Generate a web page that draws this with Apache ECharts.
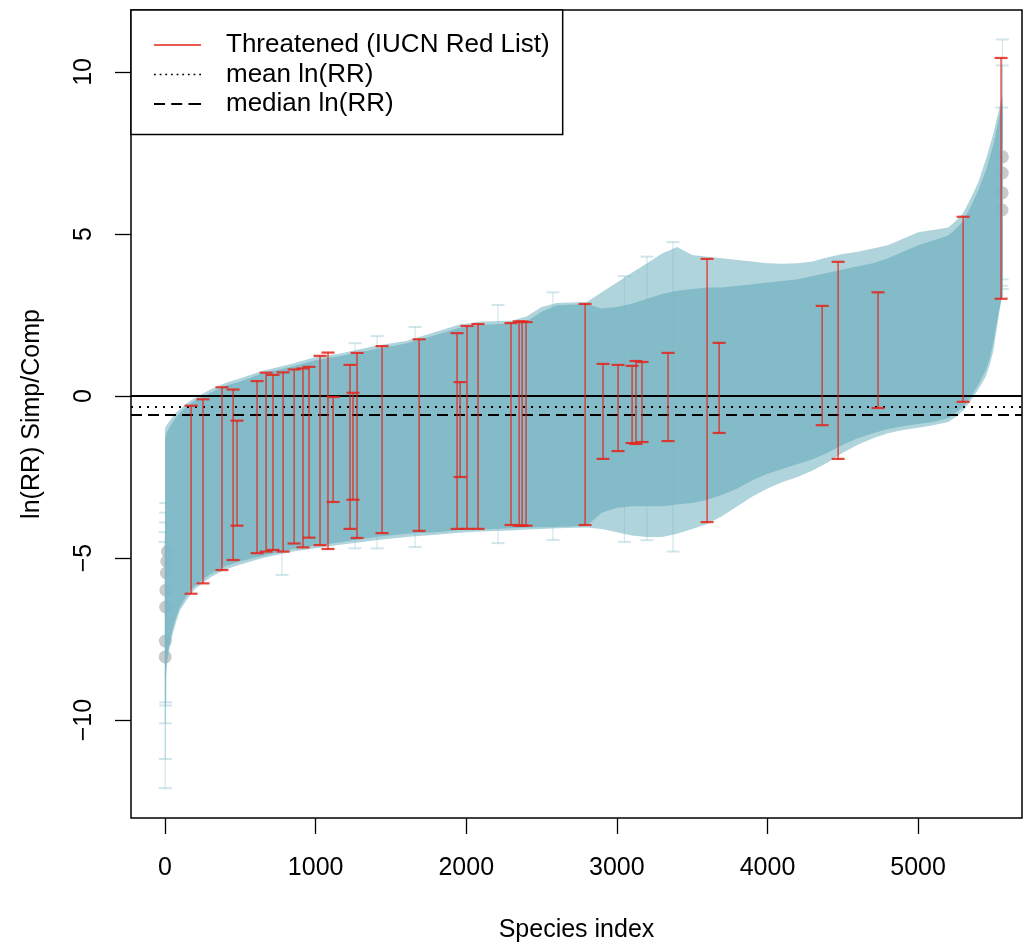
<!DOCTYPE html>
<html><head><meta charset="utf-8">
<script src="https://cdn.jsdelivr.net/npm/echarts@6/dist/echarts.min.js"></script>
<style>html,body{margin:0;padding:0;background:#fff}#chart{width:1025px;height:945px}</style>
</head><body><div id="chart"></div>
<script>
// ---- data ----
// envelope of the species error bars (sorted ln(RR) with CI)
const bandIdx = [0, 10, 25, 50, 75, 100, 150, 200, 300, 400, 500, 650, 850, 1000, 1150, 1400, 1600, 1800, 1950, 2100, 2300, 2400, 2500, 2600, 2800, 2900, 3000, 3100, 3200, 3300, 3400, 3500, 3600, 3700, 3800, 3900, 4000, 4100, 4200, 4300, 4400, 4500, 4600, 4700, 4800, 4900, 5000, 5100, 5200, 5250, 5300, 5350, 5400, 5450, 5475, 5500, 5520, 5540, 5555, 5562];
const outerHi = [-1.0, -0.9, -0.8, -0.65, -0.5, -0.4, -0.2, -0.05, 0.2, 0.4, 0.55, 0.78, 1.0, 1.2, 1.3, 1.55, 1.7, 1.98, 2.2, 2.3, 2.32, 2.45, 2.75, 2.87, 2.9, 3.2, 3.5, 3.8, 4.1, 4.4, 4.6, 4.35, 4.3, 4.25, 4.2, 4.15, 4.1, 4.08, 4.1, 4.15, 4.28, 4.38, 4.45, 4.55, 4.65, 4.85, 5.05, 5.12, 5.2, 5.4, 5.65, 6.1, 6.6, 7.3, 7.7, 8.1, 8.5, 8.9, 9.2, 9.2];
const outerLo = [-9.0, -8.4, -7.9, -7.35, -6.95, -6.6, -6.25, -5.95, -5.6, -5.35, -5.2, -5.0, -4.8, -4.7, -4.6, -4.45, -4.35, -4.28, -4.22, -4.18, -4.15, -4.12, -4.1, -4.08, -4.06, -4.1, -4.2, -4.3, -4.35, -4.35, -4.25, -4.1, -3.95, -3.7, -3.4, -3.1, -2.85, -2.65, -2.5, -2.3, -2.05, -1.75, -1.5, -1.3, -1.15, -1.05, -0.98, -0.9, -0.8, -0.65, -0.45, -0.15, 0.2, 0.6, 0.95, 1.4, 2.0, 2.6, 3.0, 3.0];
const innerHi = [-1.3, -1.15, -1.0, -0.82, -0.65, -0.52, -0.3, -0.14, 0.1, 0.32, 0.45, 0.7, 0.92, 1.1, 1.22, 1.45, 1.62, 1.88, 2.1, 2.2, 2.24, 2.3, 2.6, 2.8, 2.84, 2.7, 2.75, 2.85, 3.0, 3.15, 3.25, 3.3, 3.35, 3.35, 3.4, 3.45, 3.5, 3.55, 3.6, 3.7, 3.8, 3.9, 4.0, 4.1, 4.25, 4.45, 4.65, 4.8, 4.95, 5.15, 5.4, 5.85, 6.35, 6.95, 7.35, 7.75, 8.2, 8.65, 9.0, 9.0];
const innerLo = [-8.8, -8.2, -7.75, -7.2, -6.8, -6.5, -6.1, -5.85, -5.5, -5.25, -5.1, -4.93, -4.72, -4.62, -4.52, -4.35, -4.25, -4.2, -4.14, -4.12, -4.08, -4.06, -4.05, -4.04, -4.0, -3.6, -3.45, -3.4, -3.4, -3.4, -3.35, -3.3, -3.2, -3.05, -2.85, -2.6, -2.4, -2.25, -2.1, -1.95, -1.75, -1.5, -1.3, -1.15, -1.02, -0.93, -0.86, -0.8, -0.68, -0.52, -0.33, -0.03, 0.35, 0.8, 1.15, 1.65, 2.2, 2.7, 3.05, 3.05];

// individual wide error bars sticking out of the band
const faintIdx = [1, 2, 3, 4, 5, 777, 1262, 1408, 1660, 2211, 2576, 3050, 3200, 3373, 5556, 5558, 5560];
const faintHi = [-4.5, -4.2, -3.9, -3.6, -3.3, 0.7, 1.63, 1.85, 2.13, 2.81, 3.2, 3.7, 4.3, 4.75, 8.9, 10.2, 11.0];
const faintLo = [-12.1, -11.2, -10.1, -9.55, -9.45, -5.52, -4.7, -4.7, -4.66, -4.54, -4.44, -4.5, -4.45, -4.8, 3.4, 3.6, 3.3];

// threatened species (IUCN Red List)
const redIdx = [173, 252, 378, 452, 478, 611, 671, 717, 784, 857, 916, 956, 1029, 1082, 1116, 1228, 1248, 1275, 1441, 1687, 1939, 1959, 2005, 2078, 2297, 2351, 2371, 2397, 2789, 2908, 3008, 3101, 3127, 3167, 3340, 3599, 3679, 4363, 4469, 4734, 5299, 5551];
const redHi = [-0.3, -0.1, 0.27, 0.2, -0.76, 0.46, 0.72, 0.65, 0.73, 0.82, 0.85, 0.9, 1.24, 1.34, -0.03, 0.96, 0.1, 1.33, 1.54, 1.75, 1.94, 0.43, 2.16, 2.22, 2.25, 2.3, 2.3, 2.28, 2.84, 0.99, 0.96, 0.93, 1.08, 1.05, 1.33, 4.23, 1.64, 2.78, 4.14, 3.2, 5.53, 10.43];
const redLo = [-6.1, -5.78, -5.37, -5.06, -4.0, -4.85, -4.8, -4.75, -4.8, -4.55, -4.67, -4.37, -4.6, -4.72, -3.27, -4.1, -3.2, -4.38, -4.23, -4.16, -4.1, -2.5, -4.1, -4.1, -3.98, -4.0, -4.0, -4.0, -3.98, -1.94, -1.7, -1.45, -1.48, -1.42, -1.39, -3.89, -1.14, -0.9, -1.94, -0.37, -0.18, 3.0];

// ln(RR) point estimates visible at the extremes
const pointIdx = [1, 2, 4, 6, 9, 12, 16, 5557, 5558, 5559, 5560];
const pointVal = [-8.05, -7.56, -6.51, -5.99, -5.46, -5.1, -4.8, 5.74, 6.27, 6.88, 7.38];

const meanLnRR = -0.33;
const medianLnRR = -0.57;

const xTicks = [0, 1000, 2000, 3000, 4000, 5000];
const yTicks = [-10, -5, 0, 5, 10];

// ---- styling ----
const FONT = "'Liberation Sans', Arial, Helvetica, sans-serif";
const TEAL = '#7cb8c5';
const RED = '#e3241b';

// legend icon shapes (line samples)
function dashIcon(segs) {
  return 'path://' + segs.map(s => 'M' + s[0] + ',0H' + s[1] + 'V1.7H' + s[0] + 'Z').join(' ');
}
const solidIcon = dashIcon([[0, 47]]);
const dottedIcon = dashIcon([0, 1, 2, 3, 4, 5, 6, 7, 8].map(k => [k * 5.65, k * 5.65 + 1.8]));
const dashedIcon = dashIcon([[0, 10.5], [16.5, 27], [33, 45]]);

function bandSeries(name, hi, lo, opacity, z) {
  const data = bandIdx.map((s, i) => [s, lo[i], hi[i]]);
  return {
    type: 'custom', name: name, z: z, silent: true, clip: true,
    data: data, encode: { x: 0, y: [1, 2] },
    renderItem: function (params, api) {
      if (params.dataIndex !== 0) return null;
      const up = data.map(d => api.coord([d[0], d[2]]));
      const dn = data.map(d => api.coord([d[0], d[1]])).reverse();
      return { type: 'polygon', shape: { points: up.concat(dn) }, style: { fill: TEAL, opacity: opacity } };
    }
  };
}

function errorBarSeries(name, idx, lo, hi, color, opacity, lw, capHalf, z) {
  return {
    type: 'custom', name: name, z: z, silent: true, clip: true,
    data: idx.map((s, i) => [s, lo[i], hi[i]]),
    encode: { x: 0, y: [1, 2] },
    renderItem: function (params, api) {
      const a = api.coord([api.value(0), api.value(1)]);
      const b = api.coord([api.value(0), api.value(2)]);
      const st = { stroke: color, lineWidth: lw, opacity: opacity };
      const cap = Object.assign({}, st, { lineWidth: lw + 0.8 });
      return {
        type: 'group', children: [
          { type: 'line', shape: { x1: a[0], y1: a[1], x2: b[0], y2: b[1] }, style: st },
          { type: 'line', shape: { x1: a[0] - capHalf, y1: a[1], x2: a[0] + capHalf, y2: a[1] }, style: cap },
          { type: 'line', shape: { x1: b[0] - capHalf, y1: b[1], x2: b[0] + capHalf, y2: b[1] }, style: cap }
        ]
      };
    }
  };
}

const chart = echarts.init(document.getElementById('chart'), null, { renderer: 'canvas' });
chart.setOption({
  animation: false,
  backgroundColor: '#fff',
  textStyle: { fontFamily: FONT },
  grid: { left: 131, right: 3, top: 10, bottom: 127, show: true, containLabel: false, outerBoundsMode: 'none',
          borderColor: '#000', borderWidth: 1.5, backgroundColor: 'transparent' },
  legend: {
    left: 131, top: 10, orient: 'vertical', selectedMode: false,
    itemWidth: 47, itemHeight: 14, itemGap: 3.5,
    padding: [22, 13, 17.5, 23],
    borderColor: '#000', borderWidth: 1.5, backgroundColor: '#fff',
    textStyle: { fontSize: 26, color: '#000', fontFamily: FONT, padding: [0, 0, 0, 20] },
    data: [
      { name: 'Threatened (IUCN Red List)', icon: solidIcon, itemStyle: { color: RED } },
      { name: 'mean ln(RR)', icon: dottedIcon, itemStyle: { color: '#000' } },
      { name: 'median ln(RR)', icon: dashedIcon, itemStyle: { color: '#000' } }
    ]
  },
  xAxis: {
    type: 'value', min: -226, max: 5690,
    axisLine: { show: false, onZero: false }, splitLine: { show: false },
    axisTick: { show: true, length: 16, lineStyle: { color: '#000', width: 1.3 }, customValues: xTicks },
    axisLabel: { customValues: xTicks, formatter: v => String(v), fontSize: 25, color: '#000', margin: 38, fontFamily: FONT },
    name: 'Species index', nameLocation: 'middle', nameGap: 100,
    nameTextStyle: { fontSize: 25, color: '#000', fontFamily: FONT }
  },
  yAxis: {
    type: 'value', min: -13.02, max: 11.91,
    axisLine: { show: false, onZero: false }, splitLine: { show: false },
    axisTick: { show: true, length: 16, lineStyle: { color: '#000', width: 1.3 }, customValues: yTicks },
    axisLabel: { customValues: yTicks, rotate: 90, formatter: v => String(v).replace('-', '\u2212'), fontSize: 25, color: '#000', margin: 34, fontFamily: FONT },
    name: 'ln(RR) Simp/Comp', nameLocation: 'middle', nameGap: 86,
    nameTextStyle: { fontSize: 25, color: '#000', fontFamily: FONT }
  },
  series: [
    {
      type: 'scatter', name: 'points', z: 1, silent: true,
      data: pointIdx.map((s, i) => [s, pointVal[i]]),
      symbol: 'circle', symbolSize: 13, itemStyle: { color: '#bdbdbd' }
    },
    bandSeries('outer', outerHi, outerLo, 0.6, 2),
    bandSeries('inner', innerHi, innerLo, 0.88, 3),
    errorBarSeries('faint', faintIdx, faintLo, faintHi, TEAL, 0.35, 1.2, 6.5, 4),
    errorBarSeries('threatenedBars', redIdx, redLo, redHi, RED, 0.85, 1.4, 6.5, 5),
    {
      type: 'line', name: 'Threatened (IUCN Red List)', data: [], symbol: 'none',
      lineStyle: { color: RED, width: 1.5 }, itemStyle: { color: RED }
    },
    {
      type: 'line', name: 'zero', data: [], symbol: 'none', z: 6,
      markLine: { silent: true, symbol: 'none', label: { show: false }, animation: false,
        lineStyle: { color: '#000', width: 1.8, type: 'solid' }, data: [{ yAxis: 0 }] }
    },
    {
      type: 'line', name: 'mean ln(RR)', data: [], symbol: 'none', z: 6,
      lineStyle: { color: '#000', width: 1.8, type: [2, 6] }, itemStyle: { color: '#000' },
      markLine: { silent: true, symbol: 'none', label: { show: false }, animation: false,
        lineStyle: { color: '#000', width: 1.8, type: [2, 6] }, data: [{ yAxis: meanLnRR }] }
    },
    {
      type: 'line', name: 'median ln(RR)', data: [], symbol: 'none', z: 6,
      lineStyle: { color: '#000', width: 1.8, type: [11, 6] }, itemStyle: { color: '#000' },
      markLine: { silent: true, symbol: 'none', label: { show: false }, animation: false,
        lineStyle: { color: '#000', width: 1.8, type: [11, 6] }, data: [{ yAxis: medianLnRR }] }
    }
  ]
});
</script></body></html>
